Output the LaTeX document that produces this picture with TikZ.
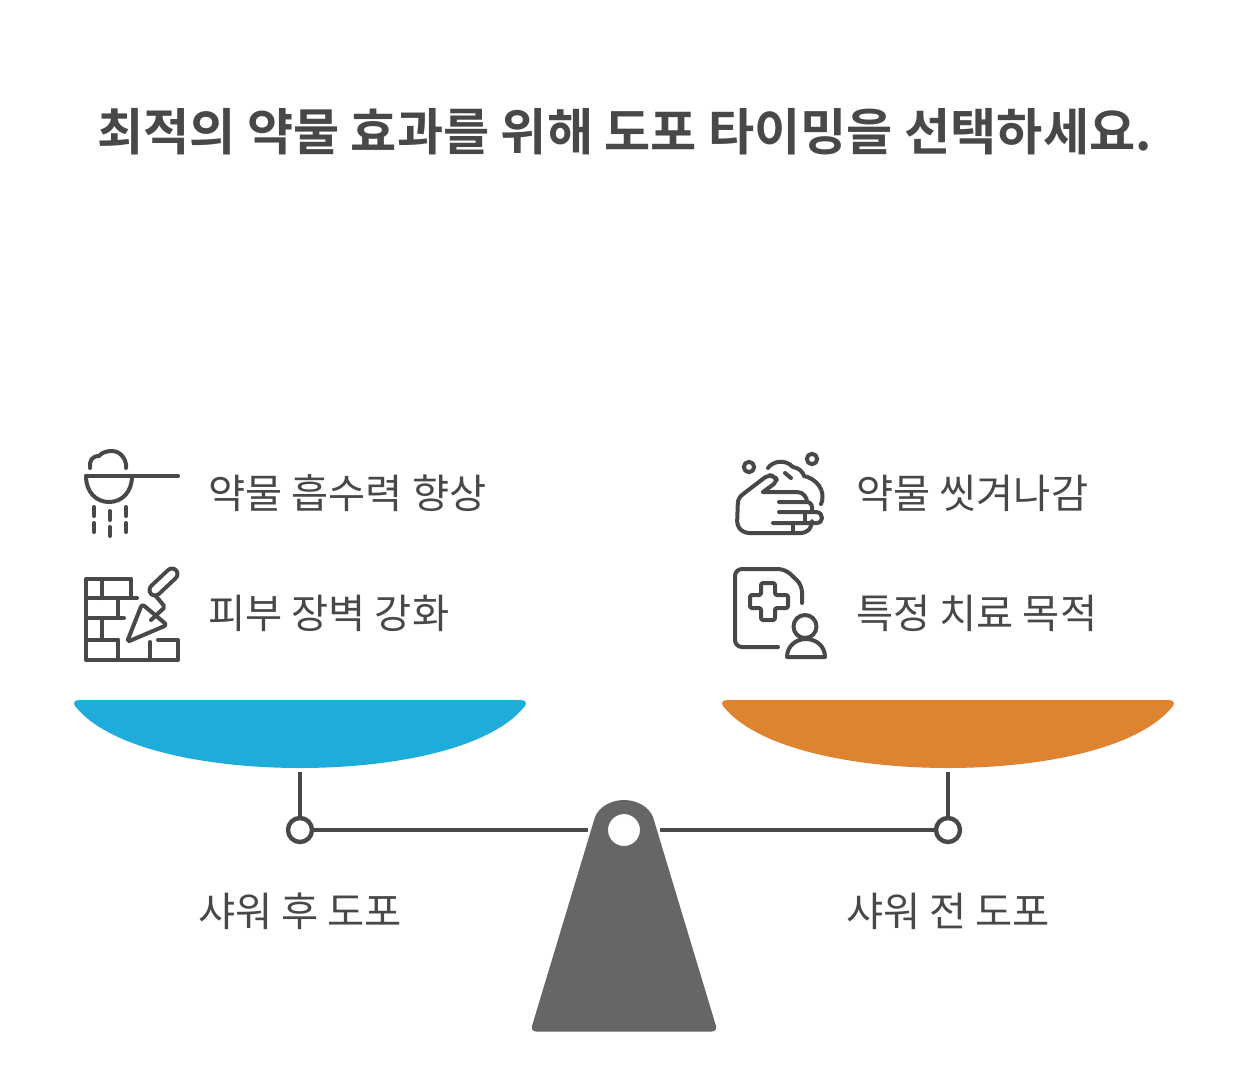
\documentclass[tikz,border=0pt]{standalone}
\usepackage{fontspec}
\setmainfont{Noto Sans CJK KR}
\newfontfamily\boldkr{Noto Sans CJK KR Bold}
\definecolor{inkgray}{HTML}{484848}
\definecolor{basegray}{HTML}{666666}
\definecolor{panblue}{HTML}{1EACDB}
\definecolor{panorange}{HTML}{DE8431}
\tikzset{
    label/.style={inner sep=0pt, text=inkgray, font=\fontsize{40.4}{48}\selectfont},
    icon/.style={draw=inkgray, line width=4pt, line cap=round, line join=round},
    beam/.style={draw=inkgray, line width=4.4pt},
    hinge/.style={circle, draw=inkgray, line width=4.4pt, fill=white, minimum size=24pt, inner sep=0pt},
}

\begin{document}
\begin{tikzpicture}[x=1pt, y=-1pt]
        \useasboundingbox (0, 0) rectangle (1248, 1077);

        % Texts
        \node[inner sep=0pt, text=inkgray, font=\boldkr\fontsize{50.2}{60}\selectfont] (title) at (624.5, 131.5) {최적의 약물 효과를 위해 도포 타이밍을 선택하세요.};
        \node[label, anchor=west] (absorb) at (208, 493.5) {약물 흡수력 향상};
        \node[label, anchor=west] (barrier) at (208, 613.5) {피부 장벽 강화};
        \node[label, anchor=west] (washoff) at (856, 493.5) {약물 씻겨나감};
        \node[label, anchor=west] (treat) at (856, 613.5) {특정 치료 목적};
        \node[label] (after) at (300, 911.5) {샤워 후 도포};
        \node[label] (before) at (948, 911.5) {샤워 전 도포};

        % Pans
        \fill[panblue] (80, 700) -- (520, 700) .. controls (526, 700) and (527, 703) .. (525, 706)
            .. controls (490, 750) and (390, 768) .. (300, 768)
            .. controls (210, 768) and (110, 750) .. (75, 706)
            .. controls (73, 703) and (74, 700) .. (80, 700) -- cycle;
        \fill[panorange] (728, 700) -- (1168, 700) .. controls (1174, 700) and (1175, 703) .. (1173, 706)
            .. controls (1138, 750) and (1038, 768) .. (948, 768)
            .. controls (858, 768) and (758, 750) .. (723, 706)
            .. controls (721, 703) and (722, 700) .. (728, 700) -- cycle;

        % Base
        \fill[basegray, even odd rule] (595, 817) .. controls (599, 807) and (611, 800) .. (624, 800)
            .. controls (637, 800) and (649, 807) .. (653, 817)
            -- (716, 1026) .. controls (717, 1029) and (715, 1031.5) .. (712, 1031.5)
            -- (536, 1031.5) .. controls (533, 1031.5) and (531, 1029) .. (532, 1026) -- cycle
            (624, 830) circle[radius=16];

        % Beam
        \coordinate (beamL) at (588, 830);
        \coordinate (beamR) at (660, 830);
        \coordinate (panL) at (300, 772);
        \coordinate (panR) at (948, 772);
        \node[hinge] (hingeL) at (300, 830) {};
        \node[hinge] (hingeR) at (948, 830) {};
        \draw[beam] (hingeL) -- (beamL);
        \draw[beam] (beamR) -- (hingeR);
        \draw[beam] (panL) -- (hingeL);
        \draw[beam] (panR) -- (hingeR);

        % Scoop
        \draw[icon] (86, 476) -- (178, 476);
        \draw[icon] (86, 476) .. controls (86, 492) and (96, 502) .. (109, 502) .. controls (122, 502) and (132, 492) .. (132, 476);
        \draw[icon] (90, 468) .. controls (89, 461) and (92, 456) .. (99, 456) .. controls (102, 452) and (108, 451) .. (112, 451) .. controls (120, 451) and (127, 459) .. (126, 468);
        \foreach \x/\y in {94/507, 94/523, 110/511, 110/527, 126/507, 126/523} {
            \draw[icon] (\x, \y) -- ++(0, 9);
        }

        % Wall
        \draw[icon] (137, 598) -- (86, 598) (131, 598) -- (131, 579) -- (86, 579) -- (86, 660) -- (178, 660) -- (178, 640) -- (158, 640);
        \draw[icon] (86, 618) -- (124, 618) (86, 640) -- (118, 640);
        \draw[icon] (102, 579) -- (102, 598) (118, 598) -- (118, 618) (102, 618) -- (102, 640) (118, 640) -- (118, 660) (150, 642) -- (150, 660);

        % Trowel
        \draw[icon, rounded corners=3pt] (127, 642) -- (142, 604) -- (167, 625) -- cycle;
        \draw[icon, rounded corners=2pt] (151, 620) -- (165, 607) -- (155, 595);
        \draw[icon, double=white, double distance=7pt] (155, 590) -- (172, 574);

        % Hand
        \draw[icon] (749, 467) circle[radius=5.2];
        \draw[icon] (812, 459) circle[radius=5.2];
        \draw[icon] (768, 468) .. controls (772, 462) and (784, 458) .. (793, 467) .. controls (799, 468) and (803, 472) .. (804, 476) .. controls (815, 478) and (827, 490) .. (821, 504);
        \draw[icon] (785, 473) -- (791, 478);
        \draw[icon, rounded corners=5pt] (763, 492) -- (778, 481) -- (774, 476) -- (768, 475) -- (738, 498) -- (737, 526) -- (744, 533) -- (806, 533) -- (812, 526) -- (812, 523);
        \draw[icon] (763, 492) -- (797, 492) .. controls (803, 492) and (807, 497) .. (807, 502);
        \draw[icon] (779, 502) -- (807, 502) .. controls (811, 502) and (813, 506) .. (812, 512);
        \draw[icon] (779, 512) -- (816, 512) .. controls (820, 512) and (822, 515) .. (822, 518) .. controls (822, 521) and (820, 523) .. (816, 523) -- (773, 523);
        \draw[icon] (793, 523) -- (793, 532) (805, 513) -- (805, 522);

        % Record
        \draw[icon, rounded corners=7pt] (778, 647) -- (735, 647) -- (735, 569) -- (785, 569) -- (802, 585) -- (802, 603);
        \draw[icon, rounded corners=2pt] (761, 583) -- (775, 583) -- (775, 595) -- (788, 595) -- (788, 608) -- (775, 608) -- (775, 620) -- (761, 620) -- (761, 608) -- (750, 608) -- (750, 595) -- (761, 595) -- cycle;
        \draw[icon] (805, 626.5) circle[radius=11.5];
        \draw[icon] (787, 657) .. controls (787, 646) and (796, 639) .. (806, 639) .. controls (816, 639) and (825, 646) .. (825, 657) -- cycle;
    \end{tikzpicture}
\end{document}
